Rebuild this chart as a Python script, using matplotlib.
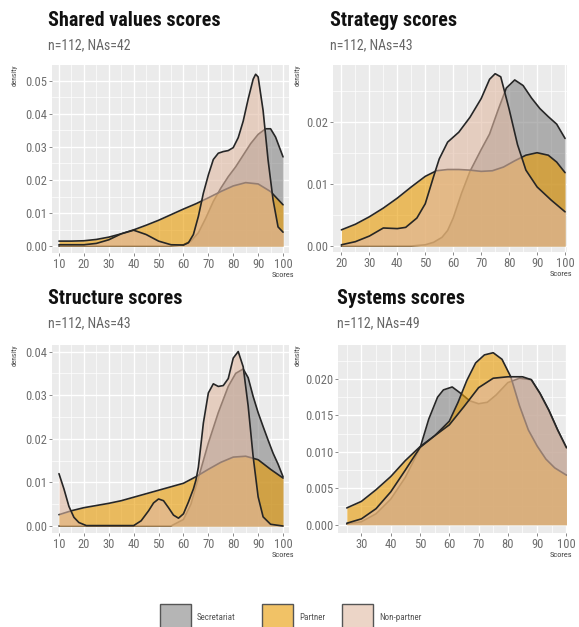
"""
Density of scores by respondent group (four panels)
"""

import matplotlib
matplotlib.use("Agg")
import matplotlib.pyplot as plt
from matplotlib import font_manager
from matplotlib.patches import Rectangle
from matplotlib.ticker import MultipleLocator, FormatStrFormatter

# ============================================================================
# 1. DATA
# ============================================================================
groups = ["Secretariat", "Partner", "Non-partner"]

titles = ["Shared values scores", "Strategy scores", "Structure scores", "Systems scores"]
subtitles = ["n=112, NAs=42", "n=112, NAs=43", "n=112, NAs=43", "n=112, NAs=49"]

# Shared values
sv_sec_x = [10, 55, 60, 63, 66, 69, 72, 75, 78, 81, 84, 87, 90, 93, 95, 97, 99, 100]
sv_sec_y = [0.0, 0.0, 0.0004, 0.0015, 0.004, 0.0085, 0.0135, 0.0175, 0.021, 0.024,
            0.0275, 0.031, 0.0338, 0.0355, 0.0355, 0.033, 0.029, 0.027]
sv_par_x = [10, 15, 20, 25, 30, 35, 40, 45, 50, 55, 60, 65, 70, 75, 80, 85, 90, 95, 100]
sv_par_y = [0.0015, 0.0015, 0.0016, 0.002, 0.0027, 0.0037, 0.0049, 0.0063, 0.0078, 0.0095,
            0.0112, 0.0128, 0.0146, 0.0165, 0.0182, 0.0192, 0.0188, 0.0165, 0.0125]
sv_non_x = [10, 20, 25, 30, 35, 40, 45, 50, 55, 60, 62, 64, 66, 68, 70, 72, 74, 76, 78, 80,
            82, 84, 86, 88, 89, 90, 92, 94, 96, 98, 100]
sv_non_y = [0.0004, 0.0004, 0.0008, 0.0019, 0.0037, 0.0048, 0.0035, 0.0015, 0.0004, 0.0003,
            0.001, 0.0035, 0.009, 0.016, 0.0215, 0.0262, 0.0281, 0.0286, 0.0289, 0.0298,
            0.0328, 0.0378, 0.0445, 0.0505, 0.052, 0.0512, 0.041, 0.026, 0.014, 0.0058, 0.0042]

# Strategy
st_sec_x = [20, 45, 50, 53, 56, 58, 60, 63, 66, 70, 73, 76, 79, 82, 85, 88, 91, 94, 97, 100]
st_sec_y = [0.0, 0.0, 0.0002, 0.0006, 0.0014, 0.0025, 0.0045, 0.0085, 0.012, 0.0155,
            0.018, 0.0218, 0.0254, 0.0267, 0.0258, 0.0238, 0.0221, 0.0208, 0.0196, 0.0173]
st_par_x = [20, 25, 30, 35, 40, 45, 50, 54, 58, 62, 66, 70, 74, 78, 82, 86, 90, 94, 97, 100]
st_par_y = [0.0026, 0.0035, 0.0047, 0.0061, 0.0077, 0.0095, 0.0112, 0.0121, 0.0123, 0.0123,
            0.0122, 0.012, 0.0121, 0.0127, 0.0137, 0.0146, 0.015, 0.0146, 0.0135, 0.0118]
st_non_x = [20, 25, 30, 35, 40, 43, 47, 50, 53, 55, 58, 62, 66, 70, 73, 75, 77, 80, 83, 86,
            90, 95, 100]
st_non_y = [0.0002, 0.0007, 0.0016, 0.0029, 0.0028, 0.003, 0.0045, 0.0068, 0.0112, 0.014,
            0.0167, 0.0183, 0.0207, 0.0237, 0.0268, 0.0277, 0.0272, 0.022, 0.0163, 0.0122,
            0.0095, 0.0074, 0.0055]

# Structure
su_sec_x = [10, 55, 60, 63, 66, 70, 74, 78, 81, 84, 86, 88, 90, 92, 94, 96, 98, 100]
su_sec_y = [0.0, 0.0, 0.0015, 0.005, 0.011, 0.019, 0.026, 0.032, 0.035, 0.036, 0.034,
            0.0297, 0.026, 0.0228, 0.0197, 0.0167, 0.0142, 0.0113]
su_par_x = [10, 15, 20, 25, 30, 35, 40, 45, 50, 55, 60, 65, 70, 75, 80, 85, 90, 95, 100]
su_par_y = [0.0026, 0.0035, 0.0042, 0.0047, 0.0052, 0.0058, 0.0066, 0.0074, 0.0082, 0.009,
            0.0098, 0.0113, 0.013, 0.0146, 0.0158, 0.016, 0.0152, 0.013, 0.011]
su_non_x = [10, 12, 14, 16, 18, 21, 40, 43, 46, 48, 50, 52, 54, 56, 58, 60, 62, 64, 65, 66,
            67, 68, 70, 72, 74, 76, 78, 80, 82, 84, 86, 88, 90, 92, 95, 100]
su_non_y = [0.012, 0.0085, 0.0045, 0.002, 0.0008, 0.0001, 0.0001, 0.0012, 0.0035, 0.0053,
            0.0062, 0.0058, 0.0042, 0.0025, 0.0018, 0.0028, 0.0055, 0.0085, 0.0105, 0.0135,
            0.0185, 0.0236, 0.0305, 0.0326, 0.032, 0.0322, 0.0338, 0.0385, 0.04, 0.0365,
            0.0275, 0.0159, 0.0067, 0.0021, 0.0004, 0.0]

# Systems
sy_sec_x = [25, 30, 35, 40, 45, 50, 53, 56, 58, 61, 64, 67, 70, 73, 76, 80, 84, 88, 91, 94,
            97, 100]
sy_sec_y = [0.0001, 0.0004, 0.0015, 0.0035, 0.0065, 0.0105, 0.0145, 0.0175, 0.0185, 0.0189,
            0.018, 0.017, 0.0166, 0.0168, 0.0178, 0.0195, 0.0201, 0.0199, 0.018, 0.0157,
            0.013, 0.0105]
sy_par_x = [25, 30, 35, 40, 45, 50, 55, 60, 63, 66, 69, 72, 75, 78, 81, 84, 87, 90, 93, 96, 100]
sy_par_y = [0.0023, 0.0032, 0.0048, 0.0066, 0.0088, 0.0107, 0.0122, 0.0142, 0.0168, 0.0198,
            0.0222, 0.0233, 0.0236, 0.0227, 0.0203, 0.0163, 0.013, 0.0108, 0.009, 0.0078, 0.0068]
sy_non_x = [25, 30, 35, 40, 45, 50, 55, 60, 65, 70, 75, 80, 85, 88, 91, 94, 97, 100]
sy_non_y = [0.0002, 0.0008, 0.0022, 0.0045, 0.0075, 0.0106, 0.0122, 0.0137, 0.0162, 0.0188,
            0.0201, 0.0203, 0.0203, 0.0199, 0.018, 0.0157, 0.013, 0.0106]

x_ticks = [list(range(10, 101, 10)), list(range(20, 101, 10)),
           list(range(10, 101, 10)), list(range(30, 101, 10))]
y_ticks = [[0.0, 0.01, 0.02, 0.03, 0.04, 0.05], [0.0, 0.01, 0.02],
           [0.0, 0.01, 0.02, 0.03, 0.04], [0.0, 0.005, 0.01, 0.015, 0.02]]

panel_data = [
    [(sv_sec_x, sv_sec_y), (sv_par_x, sv_par_y), (sv_non_x, sv_non_y)],
    [(st_sec_x, st_sec_y), (st_par_x, st_par_y), (st_non_x, st_non_y)],
    [(su_sec_x, su_sec_y), (su_par_x, su_par_y), (su_non_x, su_non_y)],
    [(sy_sec_x, sy_sec_y), (sy_par_x, sy_par_y), (sy_non_x, sy_non_y)],
]

# ============================================================================
# 2. STYLE
# ============================================================================
W, H = 579, 627
fills = ["#858585", "#e89a00", "#e0b9a3"]
ALPHA = 0.6
LINE = "#262626"
PANEL_BG = "#ebebeb"
TICK_COL = "#6e6e6e"

installed = {f.name for f in font_manager.fontManager.ttflist}
NARROW = next((f for f in ["Roboto Condensed", "Liberation Sans Narrow", "Roboto"]
               if f in installed), "DejaVu Sans")
plt.rcParams["font.family"] = [NARROW, "DejaVu Sans"]

# panel boxes in pixels: left, right, top, bottom
boxes = [(52, 289, 65, 253), (333, 567, 65, 252), (52, 289, 345, 533), (338, 567, 345, 533)]
# data limits
xlims = [(7.2, 102.4), (17.0, 100.7), (7.2, 102.4), (22.0, 100.2)]
ylims = [(-0.0021, 0.0548), (-0.00096, 0.0291), (-0.0016, 0.0415), (-0.00114, 0.02466)]
y_fmt = ["%.2f", "%.2f", "%.2f", "%.3f"]
title_pos = [(48, 20), (330, 20), (48, 298), (337, 298)]
sub_pos = [(48, 45), (330, 45), (48, 323), (337, 323)]
dens_x = [15, 298, 15, 298]

fig = plt.figure(figsize=(W / 100, H / 100), dpi=100)

# ============================================================================
# 3. PANELS
# ============================================================================
for i in range(4):
    l, r, t, b = boxes[i]
    ax = fig.add_axes([l / W, 1 - b / H, (r - l) / W, (b - t) / H])
    ax.set_facecolor(PANEL_BG)
    for s in ax.spines.values():
        s.set_visible(False)

    for g, (xs, ys) in enumerate(panel_data[i]):
        ax.fill_between(xs, 0, ys, color=fills[g], alpha=ALPHA, lw=0, zorder=2 + g)
        ax.plot(xs, ys, color=LINE, lw=1.2, zorder=2 + g,
                solid_joinstyle="round", solid_capstyle="round")

    ax.set_xlim(*xlims[i])
    ax.set_ylim(*ylims[i])
    ax.set_xticks(x_ticks[i])
    ax.set_yticks(y_ticks[i])
    ax.xaxis.set_minor_locator(MultipleLocator(5))
    ystep = y_ticks[i][1] - y_ticks[i][0]
    ax.yaxis.set_minor_locator(MultipleLocator(ystep / 2))
    ax.yaxis.set_major_formatter(FormatStrFormatter(y_fmt[i]))
    ax.grid(which="major", color="white", lw=1.0, zorder=0)
    ax.grid(which="minor", color="white", lw=0.5, zorder=0)
    ax.set_axisbelow(True)
    ax.tick_params(which="major", length=2, width=0.6, color="#777777",
                   labelsize=9, labelcolor=TICK_COL, pad=1.5)
    ax.tick_params(which="minor", length=0)

    fig.text(title_pos[i][0] / W, 1 - title_pos[i][1] / H, titles[i],
             fontsize=14.5, fontweight="bold", color="#111111", va="center", ha="left")
    fig.text(sub_pos[i][0] / W, 1 - sub_pos[i][1] / H, subtitles[i],
             fontsize=10, color="#666666", va="center", ha="left")
    fig.text(dens_x[i] / W, 1 - (t - 1) / H, "density", rotation=90,
             fontsize=5.5, color="#444444", va="top", ha="center")
    fig.text((r + 5) / W, 1 - (b + 22) / H, "Scores",
             fontsize=6, color="#444444", va="center", ha="right")

# ============================================================================
# 4. LEGEND (keys are cut by the bottom edge, as in the reference)
# ============================================================================
key_x = [160, 262, 342]
key_w = 31
key_top = 604
for g, name in enumerate(groups):
    fig.add_artist(Rectangle((key_x[g] / W, 1 - (key_top + 32) / H), key_w / W, 32 / H,
                             transform=fig.transFigure, facecolor=fills[g], alpha=ALPHA,
                             edgecolor="none"))
    fig.add_artist(Rectangle((key_x[g] / W, 1 - (key_top + 32) / H), key_w / W, 32 / H,
                             transform=fig.transFigure, facecolor="none",
                             edgecolor="#555555", lw=1.0))
    fig.text((key_x[g] + key_w + 6) / W, 1 - 617 / H, name,
             fontsize=6.5, color="#555555", va="center", ha="left")

plt.savefig("out.png", dpi=100)
plt.close()
print("Saved: out.png")
